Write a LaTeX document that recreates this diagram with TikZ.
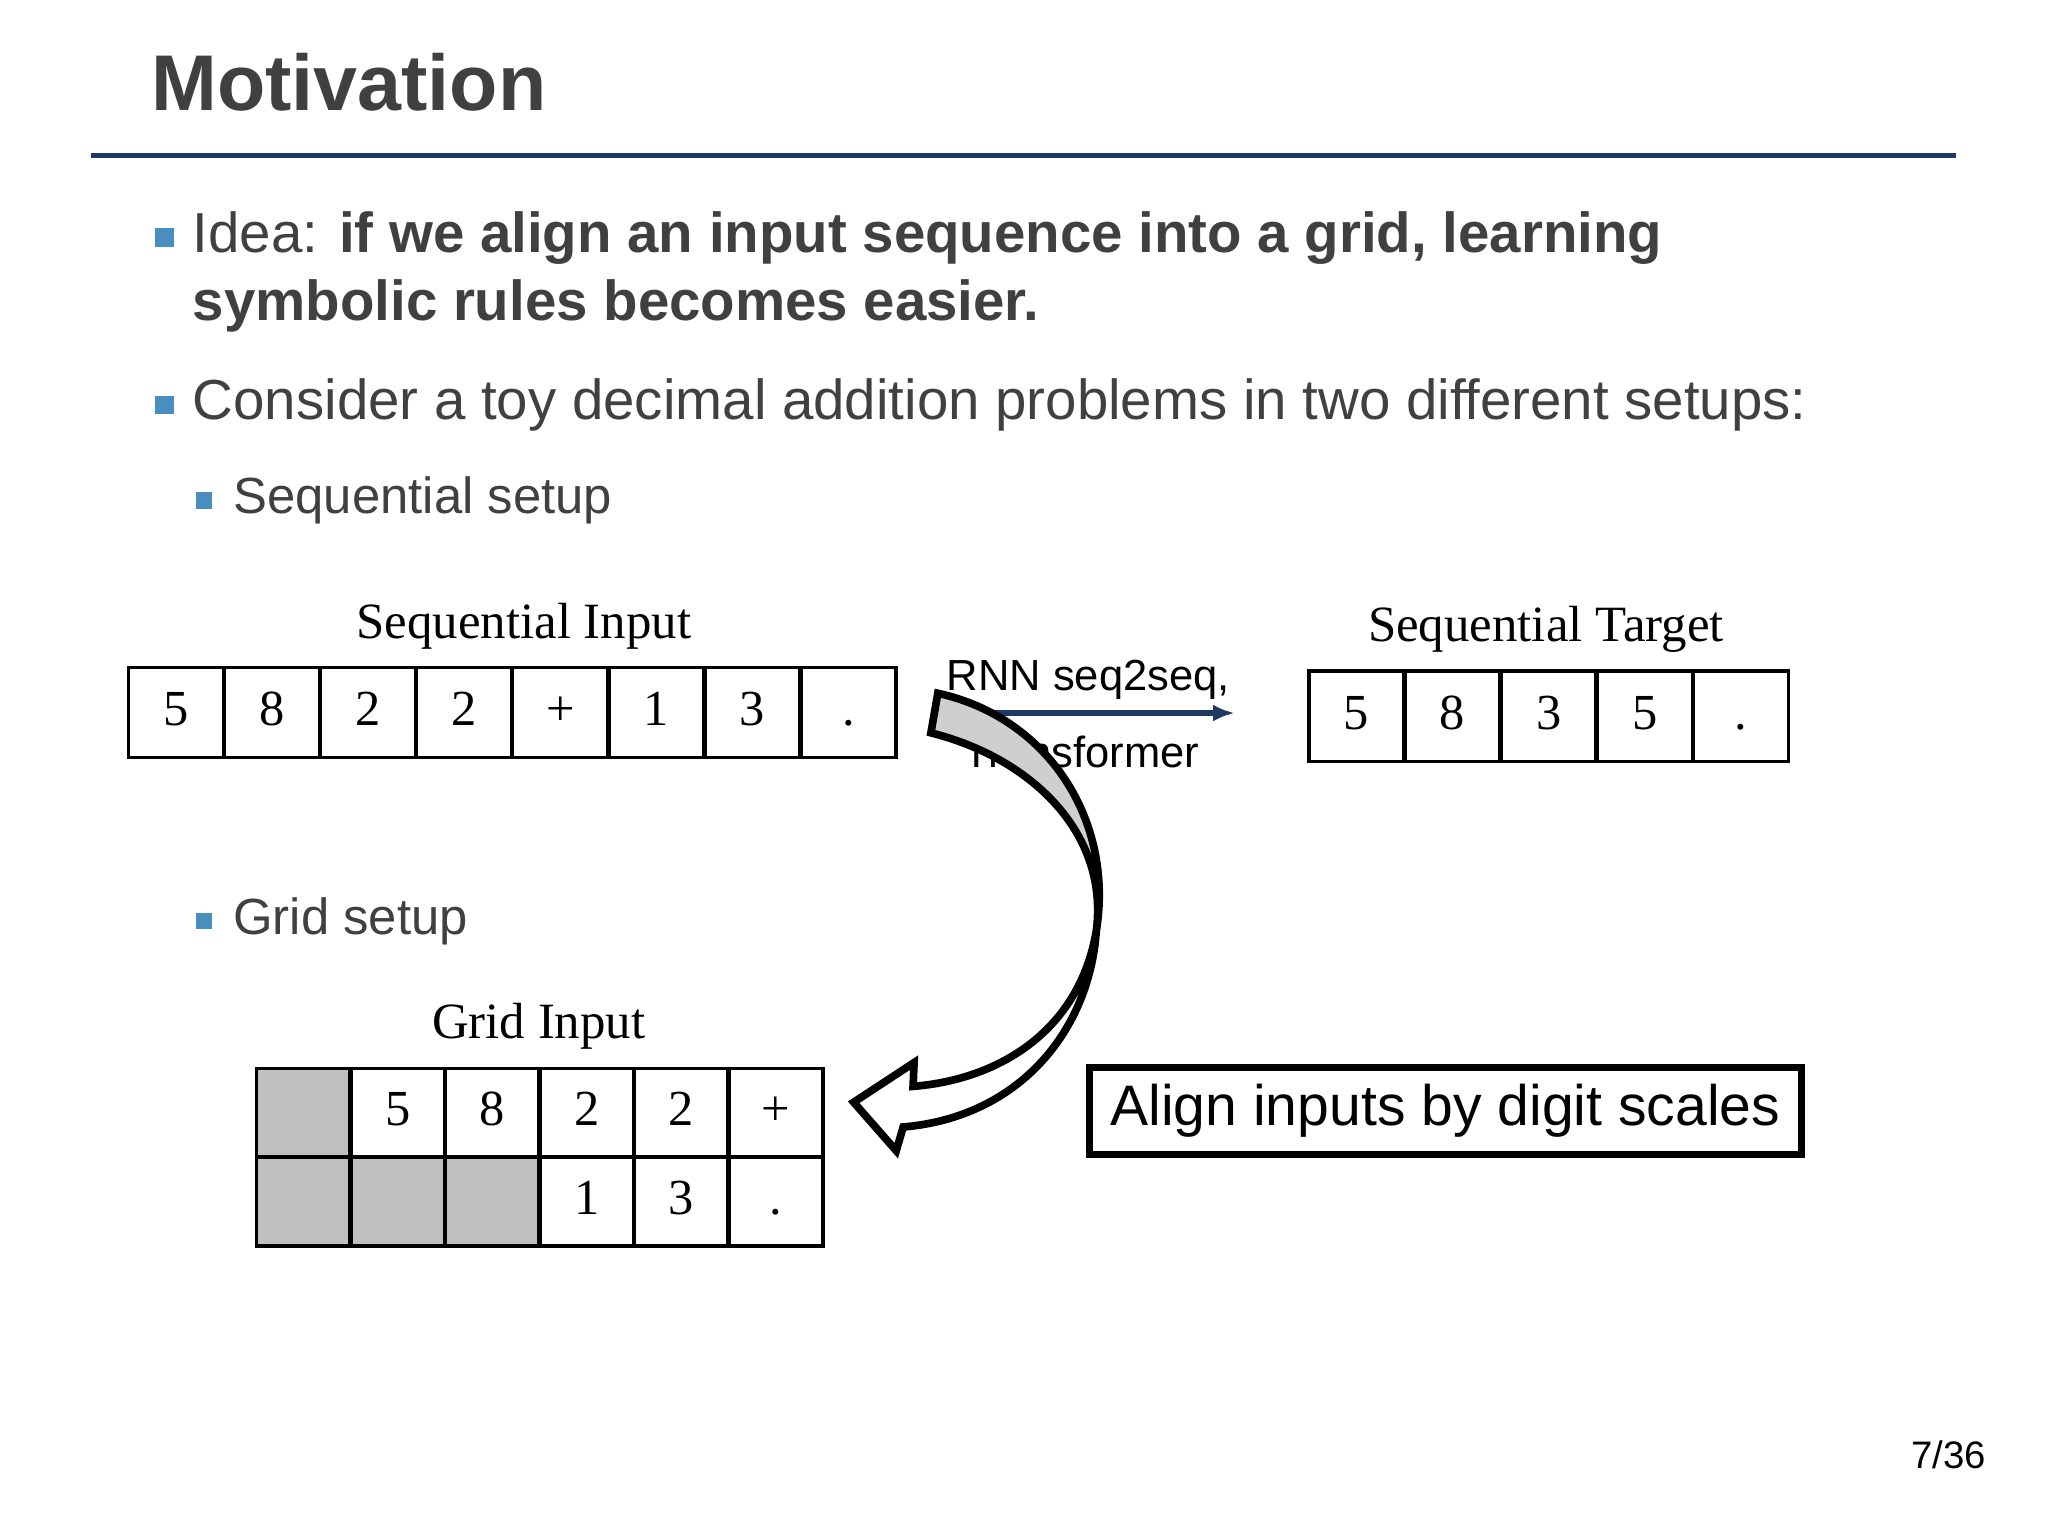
\documentclass[tikz,border=0pt]{standalone}
\usepackage{fontspec}
\usetikzlibrary{arrows.meta}
\setmainfont{Liberation Sans}
\newfontfamily\serifl{Liberation Serif}
\definecolor{txt}{HTML}{404040}
\definecolor{bul}{HTML}{4A8EBF}
\definecolor{navy}{HTML}{1F3864}
\definecolor{ribbon}{HTML}{CFCFD2}
\definecolor{cellgray}{HTML}{C0C0C0}
\begin{document}
\begin{tikzpicture}[x=0.01cm,y=-0.01cm,
  bsq/.style={fill=bul,minimum size=0.19cm,inner sep=0pt},
  btxt/.style={anchor=west,text=txt,font=\fontsize{16.2}{19}\selectfont,inner sep=0pt},
  stxt/.style={anchor=west,text=txt,font=\fontsize{14.6}{17}\selectfont,inner sep=0pt},
  cell/.style={draw=black,line width=1pt,minimum width=0.96cm,minimum height=0.91cm,inner sep=0pt,text height=1.6ex,text depth=0.2ex,font=\serifl\fontsize{14.5}{16}\selectfont,anchor=north west},
  gcell/.style={cell,minimum width=0.945cm,minimum height=0.895cm},
  shade/.style={fill=cellgray},
  lbl/.style={font=\serifl\fontsize{14.6}{17}\selectfont,inner sep=0pt}]
\useasboundingbox (0,0) rectangle (2068,1551);
\node[anchor=west,text=txt,font=\bfseries\fontsize{22.7}{26}\selectfont,inner sep=0pt] (title) at (152,83) {Motivation};
\draw[navy,line width=1.3pt] (92,157) -- (1975,157);
\node[bsq] (b1) at (166,240) {};
\node[btxt] (t1) at (194,240) {Idea: \textbf{if we align an input sequence into a grid, learning}};
\node[btxt] (t1b) at (194,309) {\textbf{symbolic rules becomes easier.}};
\node[bsq] (b2) at (166,409) {};
\node[btxt] (t2) at (194,409) {Consider a toy decimal addition problems in two different setups:};
\node[bsq,minimum size=0.17cm] (b3) at (206,505) {};
\node[stxt] (t3) at (235,505) {Sequential setup};
\node[bsq,minimum size=0.17cm] (b4) at (206,930) {};
\node[stxt] (t4) at (235,930) {Grid setup};
% sequential input
\node[lbl] (sil) at (529,632) {Sequential Input};
\foreach \v [count=\i from 0] in {5,8,2,2,+,1,3,.}
  \node[cell] (s\i) at (128+97*\i,672) {\v};
% target
\node[lbl] (stl) at (1561,635) {Sequential Target};
\foreach \v [count=\i from 0] in {5,8,3,5,.}
  \node[cell] (t\i) at (1320+97*\i,676) {\v};
% arrow
\coordinate (aS) at (983,720);
\coordinate (aE) at (1247,720);
\draw[navy,line width=1.5pt,-{Latex[length=0.22cm,width=0.17cm]}] (aS) -- (aE);
\node[font=\fontsize{12.5}{14}\selectfont,inner sep=0pt] (rnn) at (1099,686) {RNN seq2seq,};
\node[font=\fontsize{12.5}{14}\selectfont,inner sep=0pt] (trf) at (1092,759) {Transformer};
% grid
\node[lbl] (gil) at (544,1036) {Grid Input};
\foreach \v/\s [count=\i from 0] in {/shade,5/,8/,2/,2/,+/}
  \node[gcell,\s] (ga\i) at (257+95.5*\i,1077) {\v};
\foreach \v/\s [count=\i from 0] in {/shade,/shade,/shade,1/,3/,./}
  \node[gcell,\s] (gb\i) at (257+95.5*\i,1167) {\v};
% curved ribbon arrow
\fill[white] (940,740) .. controls (1040,765) and (1120,840) .. (1107,940)
  .. controls (1090,1040) and (1010,1090) .. (922,1097) -- (923,1073) -- (862,1113) -- (905,1162) -- (912,1138)
  .. controls (1030,1128) and (1100,1040) .. (1107,940)
  .. controls (1125,830) and (1060,725) .. (947,700) -- cycle;
\fill[ribbon] (940,740) .. controls (1040,765) and (1120,840) .. (1107,940)
  .. controls (1125,830) and (1060,725) .. (947,700) -- cycle;
\draw[black,line width=2.2pt,line join=miter] (940,740) .. controls (1040,765) and (1120,840) .. (1107,940)
  .. controls (1090,1040) and (1010,1090) .. (922,1097) -- (923,1073) -- (862,1113) -- (905,1162) -- (912,1138)
  .. controls (1030,1128) and (1100,1040) .. (1107,940)
  .. controls (1125,830) and (1060,725) .. (947,700) -- cycle;
% box
\node[draw=black,line width=2pt,minimum width=7.18cm,minimum height=0.88cm,inner sep=0pt,font=\fontsize{16.4}{18}\selectfont] (box) at (1459.5,1122) {Align inputs by digit scales};
\node[anchor=east,font=\fontsize{11}{13}\selectfont,text=black,inner sep=0pt] (pg) at (2006,1469) {7/36};
\end{tikzpicture}
\end{document}
